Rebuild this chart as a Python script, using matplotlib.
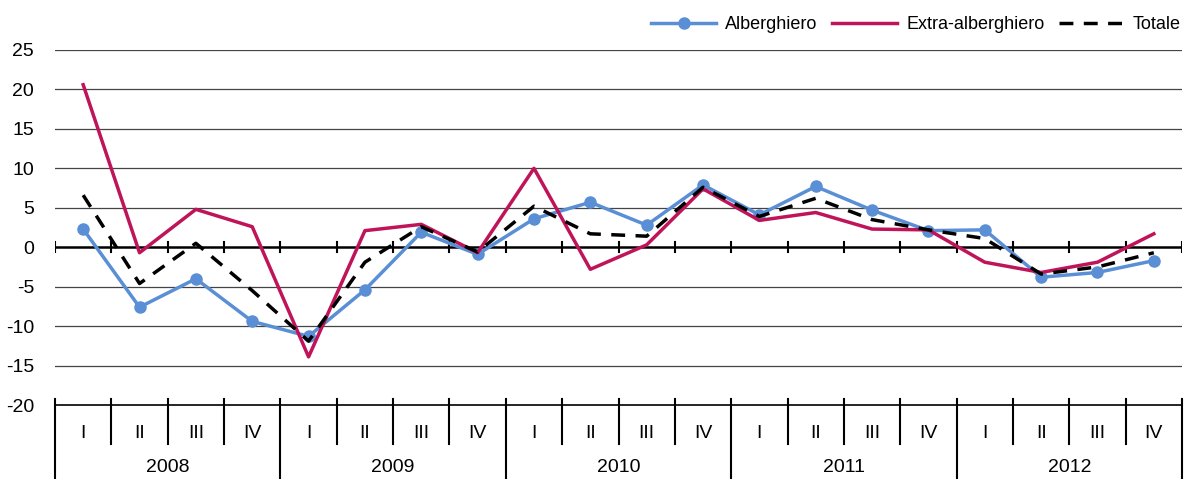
import matplotlib
matplotlib.use("Agg")
import matplotlib.pyplot as plt

plt.rcParams['font.family'] = ['Liberation Sans', 'DejaVu Sans']
plt.rcParams['axes.unicode_minus'] = False

quarters = ['I', 'II', 'III', 'IV']
years = ['2008', '2009', '2010', '2011', '2012']
alberghiero = [2.3, -7.6, -4.0, -9.4, -11.3, -5.4, 1.9, -0.9, 3.6, 5.7,
               2.8, 7.9, 4.1, 7.7, 4.7, 2.1, 2.2, -3.8, -3.2, -1.7]
extra = [20.6, -0.7, 4.8, 2.6, -13.9, 2.1, 2.9, -0.7, 10.0, -2.8,
         0.3, 7.4, 3.4, 4.4, 2.3, 2.2, -1.9, -3.2, -1.9, 1.7]
totale = [6.6, -4.6, 0.5, -5.5, -11.9, -1.9, 2.6, -0.6, 5.2, 1.7,
          1.4, 7.6, 3.9, 6.2, 3.5, 2.2, 1.1, -3.4, -2.5, -0.7]
yticks = list(range(-20, 30, 5))

blue = '#5A8FD6'
red = '#C0145A'

fig = plt.figure(figsize=(11.84, 4.79), dpi=100)
ax = fig.add_axes([55/1184, 74/479, 1127/1184, 355/479])

n = len(alberghiero)
x = list(range(n))

# griglia
for v in yticks:
    if v in (0, -20):
        continue
    ax.axhline(v, color='#444444', lw=0.9, zorder=1)
ax.axhline(0, color='black', lw=1.8, zorder=2)

ax.plot(x, alberghiero, color=blue, lw=2.5, marker='o', ms=8, label='Alberghiero', zorder=3)
ax.plot(x, extra, color=red, lw=2.5, label='Extra-alberghiero', zorder=4)
ax.plot(x, totale, color='black', lw=2.5, ls=(0, (4, 3)), label='Totale', zorder=5)

ax.set_xlim(-0.5, n - 0.5)
ax.set_ylim(-20, 25)
ax.set_yticks(yticks)
ax.tick_params(axis='y', length=0, labelsize=14, pad=15)
ax.set_xticks([])
for s in ['left', 'right', 'top']:
    ax.spines[s].set_visible(False)
ax.spines['bottom'].set_linewidth(1.2)

# tacche sull'asse dello zero
for b in range(n + 1):
    ax.plot([b - 0.5, b - 0.5], [-0.65, 0.65], color='black', lw=1.5, zorder=2)

# tabella categorie sotto il grafico
tr = ax.get_xaxis_transform()
for b in range(n + 1):
    bottom = -0.21 if b % 4 == 0 else -0.11
    ax.plot([b - 0.5, b - 0.5], [0.017, bottom], color='black', lw=1.5,
            transform=tr, clip_on=False)
for i in range(n):
    ax.text(i, -0.079, quarters[i % 4], transform=tr, ha='center', va='center', fontsize=14)
for j, yr in enumerate(years):
    ax.text(j * 4 + 1.5, -0.175, yr, transform=tr, ha='center', va='center', fontsize=14)

fig.legend(loc='upper right', bbox_to_anchor=(1.011, 1.0), ncol=3, frameon=False,
           fontsize=13, handlelength=3.6, columnspacing=0.8, handletextpad=0.5)

fig.savefig('out.png', dpi=100)
